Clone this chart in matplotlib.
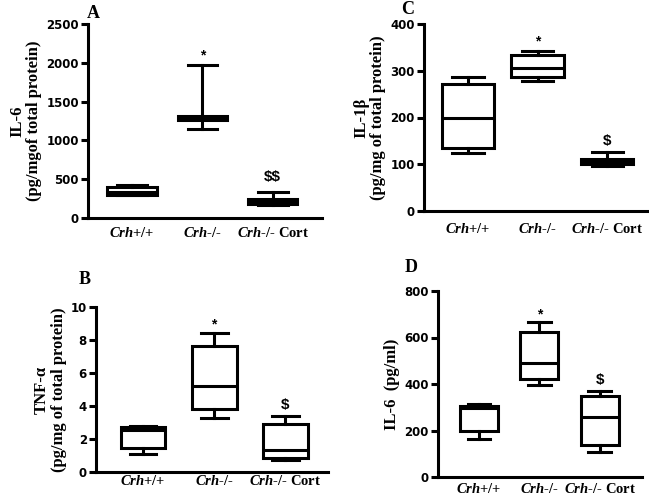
import matplotlib
matplotlib.use("Agg")
import matplotlib.pyplot as plt

plt.rcParams['mathtext.fontset'] = 'custom'
plt.rcParams['mathtext.it'] = 'Liberation Serif:italic:bold'
plt.rcParams['mathtext.rm'] = 'Liberation Serif:bold'

groups = [r'$\mathit{Crh}$+/+', r'$\mathit{Crh}$-/-', r'$\mathit{Crh}$-/- Cort']
marks = ['', '*', r'\$']

# five-number summaries: min, q1, median, q3, max per group
a_min = [290, 1150, 170]
a_q1 = [300, 1260, 180]
a_med = [330, 1280, 205]
a_q3 = [400, 1310, 240]
a_max = [430, 1975, 330]

b_min = [1.08, 3.29, 0.75]
b_q1 = [1.46, 3.81, 0.87]
b_med = [2.55, 5.21, 1.36]
b_q3 = [2.70, 7.61, 2.92]
b_max = [2.80, 8.42, 3.39]

c_min = [124, 278, 96]
c_q1 = [135, 286, 101]
c_med = [200, 306, 105]
c_q3 = [272, 333, 111]
c_max = [286, 342, 126]

d_min = [165, 395, 107]
d_q1 = [200, 421, 139]
d_med = [296, 489, 260]
d_q3 = [306, 624, 349]
d_max = [313, 665, 368]

W, H = 649, 499
fig = plt.figure(figsize=(W / 100, H / 100), dpi=100)


def rect(l, r, t, b):
    return [l / W, 1 - b / H, (r - l) / W, (b - t) / H]


def panel(box, lo, q1, med, q3, hi, signs, ylabel, yticks, xlim, width, pad, sign_off):
    ax = fig.add_axes(box)
    stats = []
    for i in range(3):
        stats.append(dict(whislo=lo[i], q1=q1[i], med=med[i], q3=q3[i], whishi=hi[i], fliers=[]))
    lw = 2.2
    ax.bxp(stats, positions=[1, 2, 3], widths=width, capwidths=width * 0.6,
           showfliers=False, patch_artist=True,
           boxprops=dict(facecolor='white', edgecolor='black', linewidth=lw),
           medianprops=dict(color='black', linewidth=lw),
           whiskerprops=dict(color='black', linewidth=lw),
           capprops=dict(color='black', linewidth=lw))
    for i, s in enumerate(signs):
        if s:
            star = s == '*'
            ax.annotate(s, (i + 1, hi[i]), xytext=(0, sign_off[0] if star else sign_off[1]),
                        textcoords='offset points', ha='center', va='center',
                        fontsize=10 if star else 11, fontweight='bold',
                        family='Liberation Sans')
    ax.set_xlim(*xlim)
    ax.set_ylim(yticks[0], yticks[-1])
    ax.set_yticks(yticks)
    ax.set_xticks([1, 2, 3])
    ax.set_xticklabels(groups, fontsize=10.5, family='Liberation Serif', fontweight='bold')
    for lab in ax.get_yticklabels():
        lab.set_family('DejaVu Sans')
        lab.set_fontweight('bold')
        lab.set_fontsize(8.5)
    ax.tick_params(axis='x', length=0, pad=pad)
    ax.tick_params(axis='y', length=5, width=2.2, pad=1.5)
    for side in ['top', 'right']:
        ax.spines[side].set_visible(False)
    for side in ['left', 'bottom']:
        ax.spines[side].set_linewidth(2.2)
    ax.set_ylabel(ylabel, family='Liberation Serif', fontweight='bold', fontsize=12,
                  linespacing=1.05, labelpad=3)
    return ax


panel(rect(88, 322, 24, 218), a_min, a_q1, a_med, a_q3, a_max, ['', '*', r'\$\$'],
      'IL-6\n(pg/mgof total protein)', [0, 500, 1000, 1500, 2000, 2500],
      (0.376, 3.70), 0.7, 6, (7, 11))
panel(rect(424, 649, 24, 211), c_min, c_q1, c_med, c_q3, c_max, marks,
      'IL-1\u03b2\n(pg/mg of total protein)', [0, 100, 200, 300, 400],
      (0.37, 3.6), 0.75, 8, (7, 8))
panel(rect(96, 328, 307, 472), b_min, b_q1, b_med, b_q3, b_max, marks,
      'TNF-\u03b1\n(pg/mg of total protein)', [0, 2, 4, 6, 8, 10],
      (0.34, 3.6), 0.63, 1.5, (6, 8))
panel(rect(438, 642, 291, 477), d_min, d_q1, d_med, d_q3, d_max, marks,
      'IL-6  (pg/ml)', [0, 200, 400, 600, 800],
      (0.32, 3.7), 0.63, 3.5, (6, 8))

for letter, x, y in [('A', 93, 14), ('C', 408, 10), ('B', 85, 279), ('D', 411, 267)]:
    fig.text(x / W, 1 - y / H, letter, ha='center', va='center', fontsize=13,
             family='Liberation Serif', fontweight='bold')

fig.savefig('out.png', dpi=100)
